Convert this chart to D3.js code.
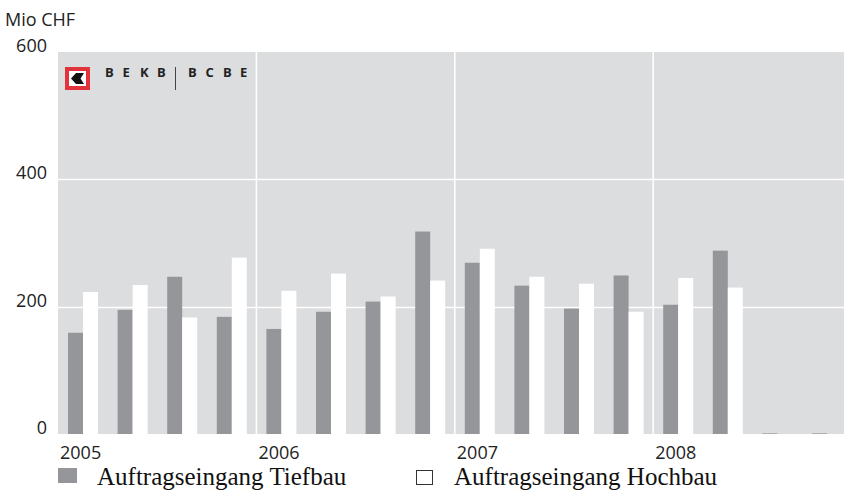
<!DOCTYPE html>
<html>
<head>
<meta charset="utf-8">
<script src="https://cdn.jsdelivr.net/npm/d3@7"></script>
<style>
  html, body { margin: 0; padding: 0; background: #fff; }
  svg { display: block; }
  .tick-label { font-family: "Open Sans", sans-serif; font-size: 18px; fill: #222; }
  .legend-label { font-family: "Liberation Serif", serif; font-size: 25px; fill: #111; }
</style>
</head>
<body>
<div id="chart"></div>
<script>
const quarters = ['2005 Q1', '2005 Q2', '2005 Q3', '2005 Q4',
                  '2006 Q1', '2006 Q2', '2006 Q3', '2006 Q4',
                  '2007 Q1', '2007 Q2', '2007 Q3', '2007 Q4',
                  '2008 Q1', '2008 Q2', '2008 Q3', '2008 Q4'];
const years = ['2005', '2006', '2007', '2008'];
const tiefbau = [159, 195, 247, 184, 165, 192, 208, 318, 269, 233, 197, 249, 203, 288, 1, 1];
const hochbau = [223, 234, 183, 277, 225, 252, 216, 241, 291, 247, 236, 192, 245, 230, 0, 0];
const yTicks = [0, 200, 400, 600];
const seriesNames = ['Auftragseingang Tiefbau', 'Auftragseingang Hochbau'];

const width = 844, height = 490;
const plot = { left: 58, right: 844, top: 52, bottom: 434 };

const svg = d3.select('#chart').append('svg')
    .attr('width', width)
    .attr('height', height);

const x = d3.scaleBand()
    .domain(quarters)
    .range([plot.left, plot.left + 16 * 49.6])
    .padding(0);

const xInner = d3.scaleBand()
    .domain(['tief', 'hoch'])
    .range([10, 40])
    .padding(0);

const y = d3.scaleLinear()
    .domain([0, 600])
    .range([plot.bottom, plot.top]);

// background
svg.append('rect')
    .attr('x', plot.left)
    .attr('y', plot.top)
    .attr('width', plot.right - plot.left)
    .attr('height', plot.bottom - plot.top)
    .attr('fill', '#dcdddf');

// grid lines
svg.append('g')
    .selectAll('line')
    .data(yTicks.filter(d => d > 0 && d < 600))
    .enter().append('line')
    .attr('x1', plot.left)
    .attr('x2', plot.right)
    .attr('y1', d => Math.round(y(d)) + 0.5)
    .attr('y2', d => Math.round(y(d)) + 0.5)
    .attr('stroke', '#fff')
    .attr('stroke-width', 1.5);

svg.append('g')
    .selectAll('line')
    .data(years.slice(1))
    .enter().append('line')
    .attr('x1', d => x(d + ' Q1'))
    .attr('x2', d => x(d + ' Q1'))
    .attr('y1', plot.top)
    .attr('y2', plot.bottom)
    .attr('stroke', '#fff')
    .attr('stroke-width', 1.5);

// bars
const groups = svg.append('g')
    .selectAll('g')
    .data(quarters.map((q, i) => ({ q: q, tief: tiefbau[i], hoch: hochbau[i] })))
    .enter().append('g')
    .attr('transform', d => 'translate(' + x(d.q) + ',0)');

groups.append('rect')
    .attr('x', xInner('tief'))
    .attr('width', xInner.bandwidth())
    .attr('y', d => y(d.tief))
    .attr('height', d => y(0) - y(d.tief))
    .attr('fill', '#959699');

groups.append('rect')
    .attr('x', xInner('hoch'))
    .attr('width', xInner.bandwidth())
    .attr('y', d => y(d.hoch))
    .attr('height', d => y(0) - y(d.hoch))
    .attr('fill', '#ffffff');

// y labels
svg.append('g')
    .selectAll('text')
    .data(yTicks)
    .enter().append('text')
    .attr('class', 'tick-label')
    .attr('x', 47)
    .attr('y', d => y(d))
    .attr('text-anchor', 'end')
    .text(d => d);

svg.append('text')
    .attr('class', 'tick-label')
    .attr('x', 5)
    .attr('y', 26)
    .text('Mio CHF');

// year labels
svg.append('g')
    .selectAll('text')
    .data(years)
    .enter().append('text')
    .attr('class', 'tick-label')
    .attr('x', d => x(d + ' Q1') + 2)
    .attr('y', 459)
    .text(d => d);

// legend
const legend = svg.append('g');
legend.append('rect')
    .attr('x', 58).attr('y', 468)
    .attr('width', 19).attr('height', 15)
    .attr('fill', '#959699');
legend.append('text')
    .attr('class', 'legend-label')
    .attr('x', 97).attr('y', 485)
    .text(seriesNames[0]);
legend.append('rect')
    .attr('x', 416.5).attr('y', 470.5)
    .attr('width', 16).attr('height', 14)
    .attr('fill', '#fff')
    .attr('stroke', '#333')
    .attr('stroke-width', 1);
legend.append('text')
    .attr('class', 'legend-label')
    .attr('x', 454).attr('y', 485)
    .text(seriesNames[1]);

// logo
const logo = svg.append('g').attr('transform', 'translate(65,67)');
logo.append('rect')
    .attr('width', 25).attr('height', 23)
    .attr('fill', '#e2333c');
logo.append('rect')
    .attr('x', 4).attr('y', 4)
    .attr('width', 17).attr('height', 15)
    .attr('fill', '#fff');
logo.append('path')
    .attr('d', 'M6,11.5 L11,6 L19,6 L15.5,11.5 L19,17 L11,17 Z')
    .attr('fill', '#111');

const logoLetters = ['B', 'E', 'K', 'B', null, 'B', 'C', 'B', 'E'];
const logoX = [105, 122.5, 140, 157, null, 188, 205.5, 223, 240];
logoLetters.forEach((l, i) => {
    if (!l) return;
    svg.append('text')
        .attr('x', logoX[i])
        .attr('y', 77)
        .attr('font-family', '"Open Sans", sans-serif')
        .attr('font-weight', 700)
        .attr('font-size', 13)
        .attr('fill', '#222')
        .text(l);
});
svg.append('line')
    .attr('x1', 175.5).attr('x2', 175.5)
    .attr('y1', 67).attr('y2', 90)
    .attr('stroke', '#444')
    .attr('stroke-width', 1);
</script>
</body>
</html>
